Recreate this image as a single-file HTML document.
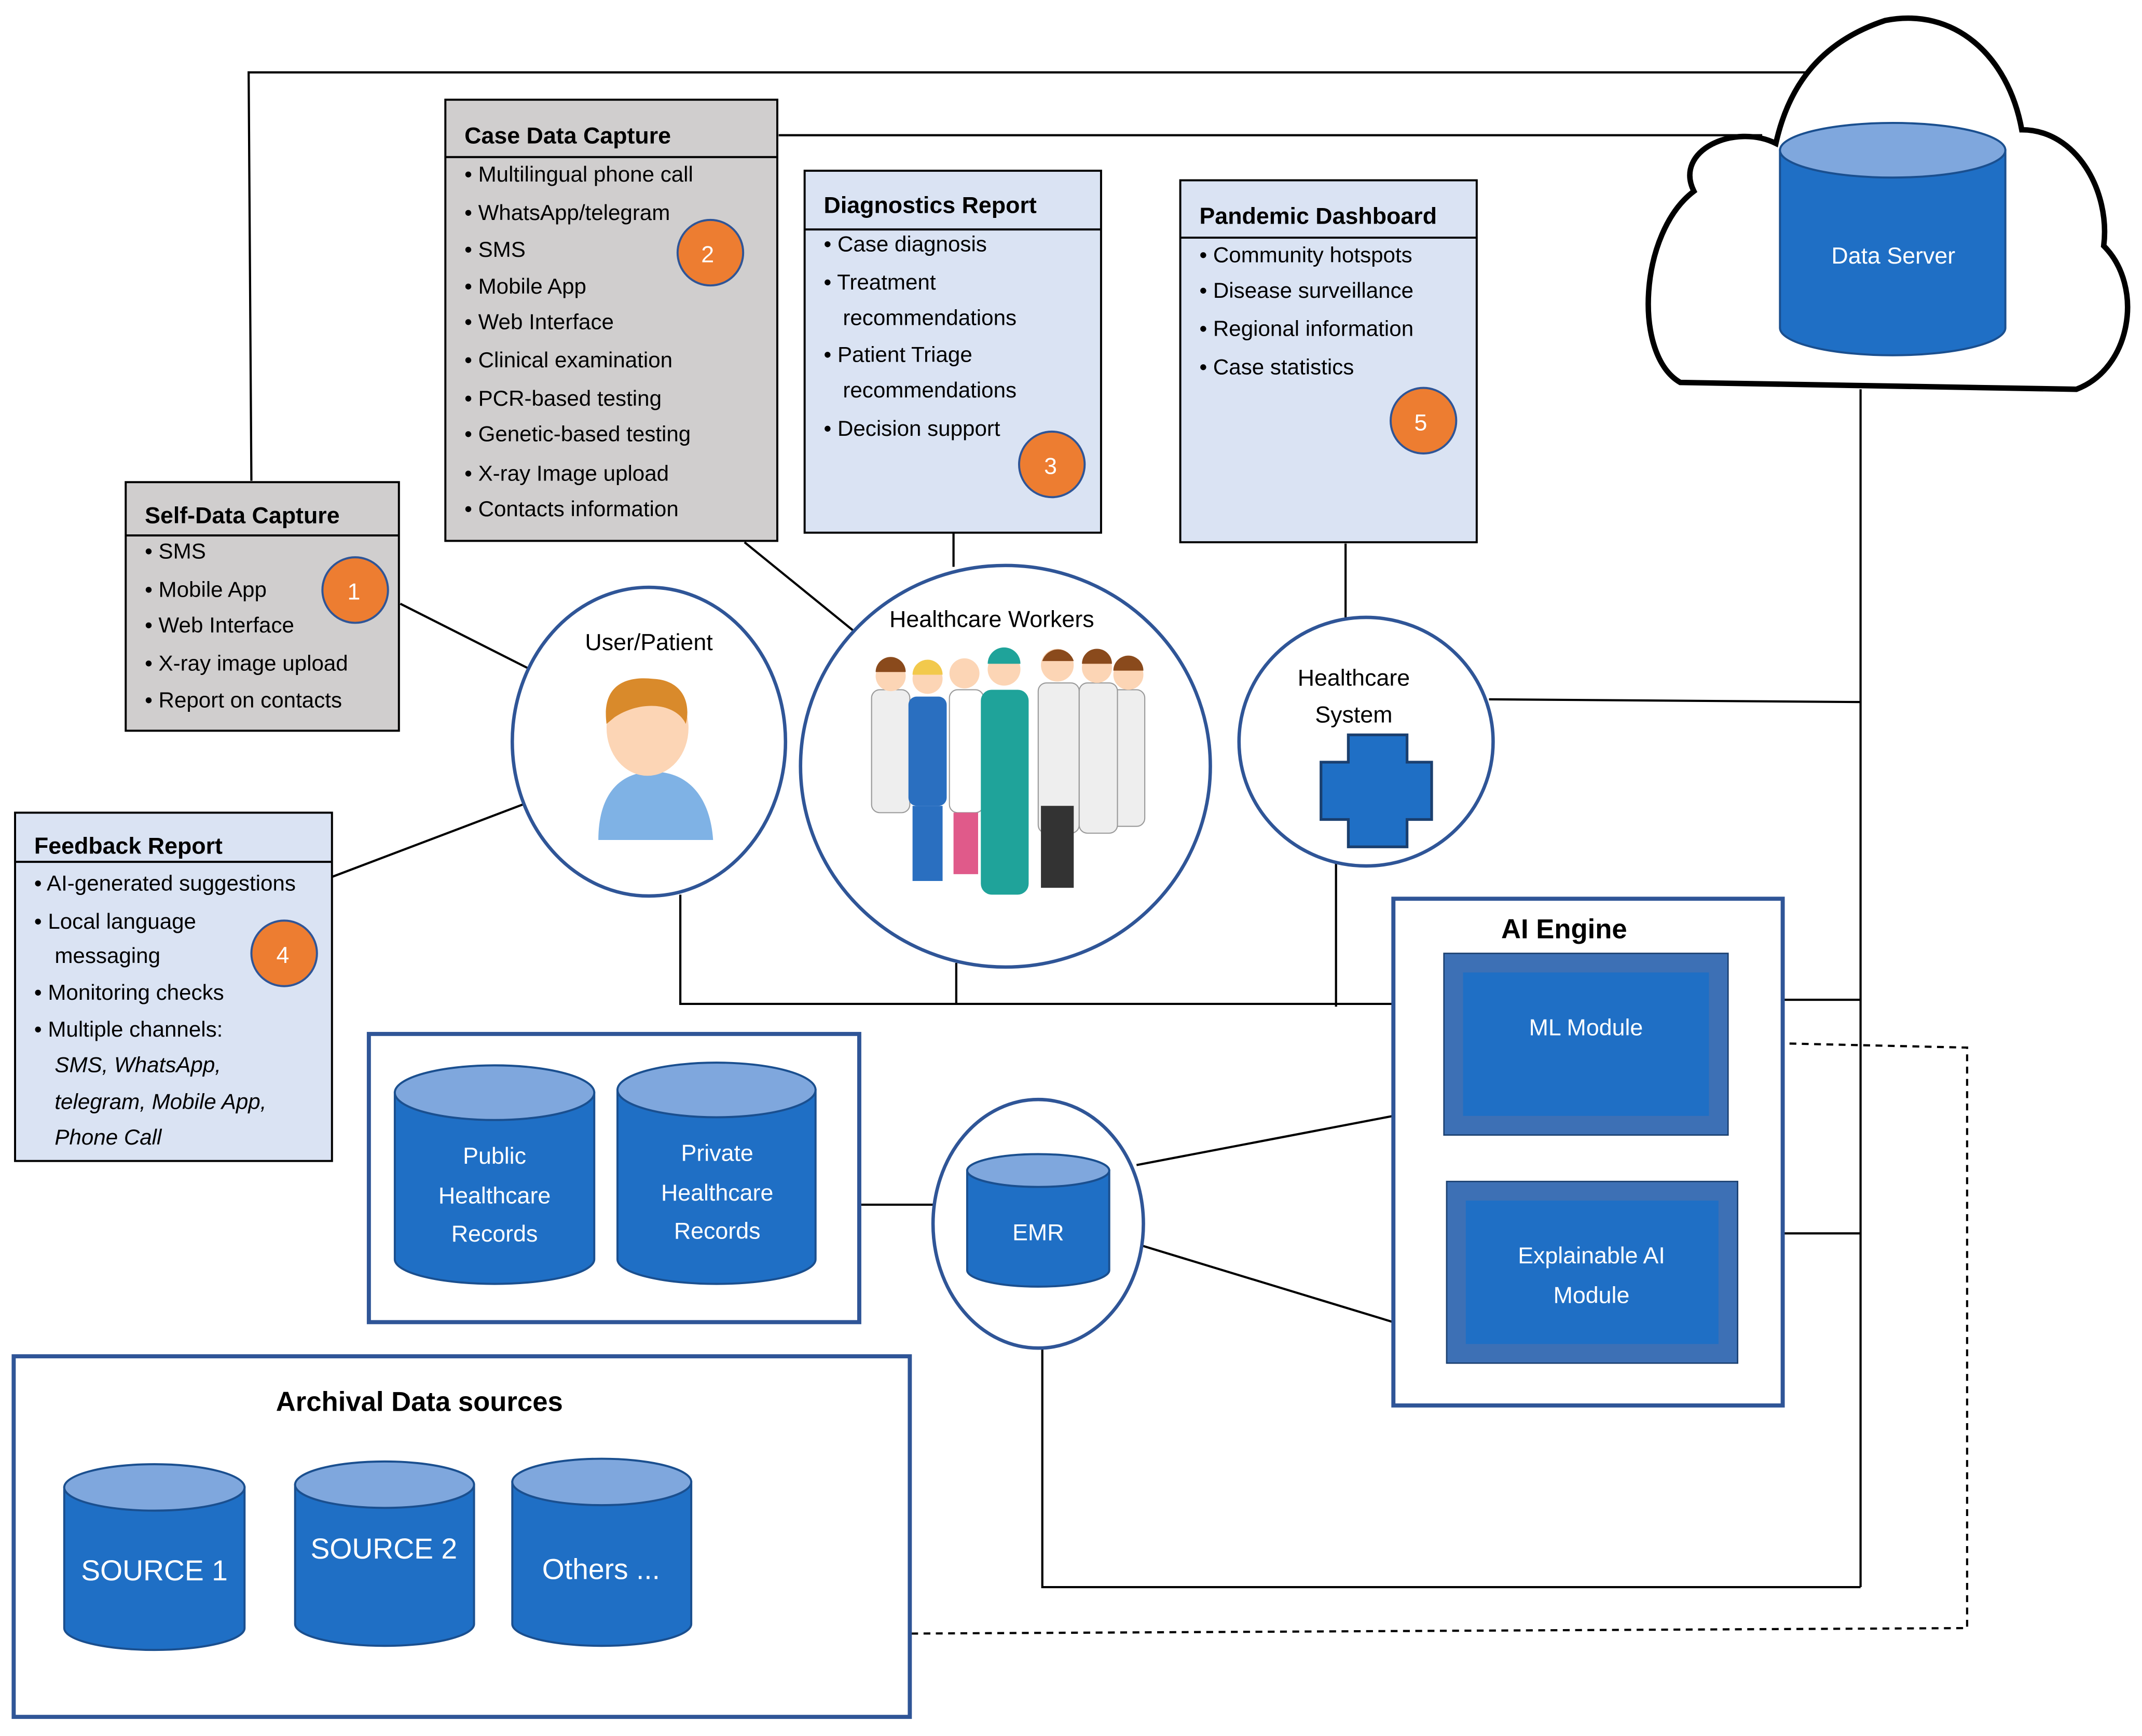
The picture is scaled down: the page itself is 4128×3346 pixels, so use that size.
<!DOCTYPE html>
<html><head><meta charset="utf-8"><style>
html,body{margin:0;padding:0;background:#fff;}
svg{display:block;}
text{font-family:"Liberation Sans Narrow","Liberation Sans",sans-serif;}
</style></head><body>
<svg width="4128" height="3346" viewBox="0 0 1568 1271" xmlns="http://www.w3.org/2000/svg">
<rect width="1568" height="1271" fill="#fff"/>
<g stroke="#000" stroke-width="1.6" fill="none">
<polyline points="184,352 182,53 1340,53"/>
<line x1="570" y1="99" x2="1290" y2="99"/>
<line x1="1362" y1="285" x2="1362" y2="1162"/>
<line x1="1090" y1="512" x2="1362" y2="514"/>
<line x1="1265" y1="732" x2="1362" y2="732"/>
<line x1="1272" y1="903" x2="1362" y2="903"/>
<polyline points="763,985 763,1162 1362,1162"/>
<polyline points="498,655 498,735 1020,735"/>
<line x1="700" y1="705" x2="700" y2="735"/>
<line x1="978" y1="632" x2="978" y2="737"/>
<line x1="698" y1="390" x2="698" y2="415"/>
<line x1="985" y1="398" x2="985" y2="452"/>
<line x1="545" y1="397" x2="625" y2="462"/>
<line x1="293" y1="442" x2="388" y2="490"/>
<line x1="243" y1="642" x2="388" y2="587"/>
<line x1="630" y1="882" x2="685" y2="882"/>
<line x1="832" y1="853" x2="1020" y2="817"/>
<line x1="836" y1="912" x2="1020" y2="968"/>
<line x1="1160" y1="825" x2="1160" y2="870" stroke-width="2.5"/>
<polyline points="1265,763 1440,767 1440,1192 667,1196" stroke-dasharray="5,4"/>
</g>
<path d="M1230,280 C1195,260 1200,170 1240,140 C1225,110 1270,90 1300,105 C1310,60 1335,30 1380,15 C1430,5 1470,40 1480,95 C1520,95 1545,140 1540,180 C1570,210 1560,270 1520,285 Z" fill="#fff" stroke="#000" stroke-width="4"/>
<path d="M1303,110 L1303,240 A82,20 0 0 0 1468,240 L1468,110 Z" fill="#1f6fc5" stroke="#1a4f8f" stroke-width="1.5"/>
<ellipse cx="1385.5" cy="110" rx="82.5" ry="20" fill="#7fa7dd" stroke="#1a4f8f" stroke-width="1.5"/>
<text x="1386" y="193" font-size="17" fill="#fff" text-anchor="middle">Data Server</text>

<rect x="92" y="353" width="200" height="182" fill="#d0cece" stroke="#000" stroke-width="1.5"/>
<line x1="92" y1="392" x2="292" y2="392" stroke="#000" stroke-width="1.5"/>
<text x="106" y="383" font-size="17" font-weight="bold">Self-Data Capture</text>
<g font-size="16">
<text x="106" y="409">• SMS</text><text x="106" y="437">• Mobile App</text><text x="106" y="463">• Web Interface</text><text x="106" y="491">• X-ray image upload</text><text x="106" y="518">• Report on contacts</text>
</g>
<rect x="326" y="73" width="243" height="323" fill="#d0cece" stroke="#000" stroke-width="1.5"/>
<line x1="326" y1="115" x2="569" y2="115" stroke="#000" stroke-width="1.5"/>
<text x="340" y="105" font-size="17" font-weight="bold">Case Data Capture</text>
<g font-size="16">
<text x="340" y="133">• Multilingual phone call</text><text x="340" y="161">• WhatsApp/telegram</text><text x="340" y="188">• SMS</text><text x="340" y="215">• Mobile App</text><text x="340" y="241">• Web Interface</text><text x="340" y="269">• Clinical examination</text><text x="340" y="297">• PCR-based testing</text><text x="340" y="323">• Genetic-based testing</text><text x="340" y="352">• X-ray Image upload</text><text x="340" y="378">• Contacts information</text>
</g>
<rect x="589" y="125" width="217" height="265" fill="#dae3f3" stroke="#000" stroke-width="1.5"/>
<line x1="589" y1="168" x2="806" y2="168" stroke="#000" stroke-width="1.5"/>
<text x="603" y="156" font-size="17" font-weight="bold">Diagnostics Report</text>
<g font-size="16">
<text x="603" y="184">• Case diagnosis</text><text x="603" y="212">• Treatment</text><text x="617" y="238">recommendations</text><text x="603" y="265">• Patient Triage</text><text x="617" y="291">recommendations</text><text x="603" y="319">• Decision support</text>
</g>
<rect x="864" y="132" width="217" height="265" fill="#dae3f3" stroke="#000" stroke-width="1.5"/>
<line x1="864" y1="174" x2="1081" y2="174" stroke="#000" stroke-width="1.5"/>
<text x="878" y="164" font-size="17" font-weight="bold">Pandemic Dashboard</text>
<g font-size="16">
<text x="878" y="192">• Community hotspots</text><text x="878" y="218">• Disease surveillance</text><text x="878" y="246">• Regional information</text><text x="878" y="274">• Case statistics</text>
</g>
<rect x="11" y="595" width="232" height="255" fill="#dae3f3" stroke="#000" stroke-width="1.5"/>
<line x1="11" y1="631" x2="243" y2="631" stroke="#000" stroke-width="1.5"/>
<text x="25" y="625" font-size="17" font-weight="bold">Feedback Report</text>
<g font-size="16">
<text x="25" y="652">• AI-generated suggestions</text><text x="25" y="680">• Local language</text><text x="40" y="705">messaging</text><text x="25" y="732">• Monitoring checks</text><text x="25" y="759">• Multiple channels:</text>
<text x="40" y="785" font-style="italic">SMS, WhatsApp,</text><text x="40" y="812" font-style="italic">telegram, Mobile App,</text><text x="40" y="838" font-style="italic">Phone Call</text>
</g>
<g fill="#ed7d31" stroke="#2f5597" stroke-width="1.5">
<circle cx="260" cy="432" r="24"/><circle cx="520" cy="185" r="24"/><circle cx="770" cy="340" r="24"/><circle cx="1042" cy="308" r="24"/><circle cx="208" cy="698" r="24"/>
</g>
<g fill="#fff" font-size="17" text-anchor="middle">
<text x="259" y="439">1</text><text x="518" y="192">2</text><text x="769" y="347">3</text><text x="1040" y="315">5</text><text x="207" y="705">4</text>
</g>
<g fill="#fff" stroke="#2f5597" stroke-width="2.5">
<ellipse cx="475" cy="543" rx="100" ry="113"/>
<ellipse cx="736" cy="561" rx="150" ry="147"/>
<ellipse cx="1000" cy="543" rx="93" ry="91"/>
<ellipse cx="760" cy="896" rx="77" ry="91"/>
</g>
<text x="475" y="476" font-size="17" text-anchor="middle">User/Patient</text>
<path d="M438,615 C438,580 455,565 478,565 C505,565 520,585 522,615 Z" fill="#7fb2e5"/>
<ellipse cx="474" cy="533" rx="30" ry="35" fill="#fcd5b5"/>
<path d="M444,530 C440,500 460,495 478,497 C500,498 506,515 502,530 C495,515 470,512 450,525 Z" fill="#d98a2b"/>
<text x="726" y="459" font-size="17" text-anchor="middle">Healthcare Workers</text>
<g>
<g fill="#eee" stroke="#999" stroke-width="0.8">
<rect x="638" y="505" width="28" height="90" rx="6"/><rect x="810" y="505" width="28" height="100" rx="6"/><rect x="760" y="500" width="30" height="110" rx="6"/><rect x="790" y="500" width="28" height="110" rx="6"/>
</g>
<rect x="665" y="510" width="28" height="80" rx="6" fill="#2a6fc0"/>
<rect x="668" y="590" width="22" height="55" fill="#2a6fc0"/>
<rect x="695" y="505" width="25" height="90" rx="6" fill="#fff" stroke="#999" stroke-width="0.8"/>
<rect x="698" y="595" width="18" height="45" fill="#e05a8a"/>
<rect x="718" y="505" width="35" height="150" rx="8" fill="#1fa39a"/>
<rect x="762" y="590" width="24" height="60" fill="#333"/>
<g fill="#fcd5b5"><circle cx="652" cy="495" r="11"/><circle cx="679" cy="497" r="11"/><circle cx="706" cy="493" r="11"/><circle cx="735" cy="490" r="12"/><circle cx="774" cy="487" r="12"/><circle cx="803" cy="489" r="11"/><circle cx="826" cy="494" r="11"/></g>
<g fill="#8a4a1c"><path d="M641,492 a11,11 0 0 1 22,0 z"/><path d="M763,484 a12,12 0 0 1 23,0 z"/><path d="M792,486 a11,11 0 0 1 22,0 z"/><path d="M815,491 a11,11 0 0 1 22,0 z"/></g>
<path d="M668,494 a11,11 0 0 1 22,0 z" fill="#f2c94c"/>
<path d="M723,486 a12,12 0 0 1 24,0 z" fill="#1fa39a"/>
</g>
<text x="991" y="502" font-size="17" text-anchor="middle">Healthcare</text>
<text x="991" y="529" font-size="17" text-anchor="middle">System</text>
<path d="M987,538 L1030,538 L1030,558 L1048,558 L1048,600 L1030,600 L1030,620 L987,620 L987,600 L967,600 L967,558 L987,558 Z" fill="#1f6fc5" stroke="#1a3f6f" stroke-width="2"/>
<rect x="1020" y="658" width="285" height="371" fill="#fff" stroke="#2f5597" stroke-width="3"/>
<text x="1145" y="687" font-size="20" font-weight="bold" text-anchor="middle">AI Engine</text>
<rect x="1057" y="698" width="208" height="133" fill="#3d70b5" stroke="#1a3f6f"/>
<rect x="1071" y="712" width="180" height="105" fill="#1f6fc5"/>
<text x="1161" y="758" font-size="17" fill="#fff" text-anchor="middle">ML Module</text>
<rect x="1059" y="865" width="213" height="133" fill="#3d70b5" stroke="#1a3f6f"/>
<rect x="1073" y="879" width="185" height="105" fill="#1f6fc5"/>
<text x="1165" y="925" font-size="17" fill="#fff" text-anchor="middle">Explainable AI</text>
<text x="1165" y="954" font-size="17" fill="#fff" text-anchor="middle">Module</text>
<rect x="270" y="757" width="359" height="211" fill="#fff" stroke="#2f5597" stroke-width="3"/>
<rect x="10" y="993" width="656" height="264" fill="#fff" stroke="#2f5597" stroke-width="3"/>
<text x="307" y="1033" font-size="20" font-weight="bold" text-anchor="middle">Archival Data sources</text>
<g stroke="#1a4f8f" stroke-width="1.5">
<path d="M289,800 L289,922 A73,18 0 0 0 435,922 L435,800 Z" fill="#1f6fc5"/><ellipse cx="362" cy="800" rx="73" ry="20" fill="#7fa7dd"/>
<path d="M452,798 L452,922 A72.5,18 0 0 0 597,922 L597,798 Z" fill="#1f6fc5"/><ellipse cx="524.5" cy="798" rx="72.5" ry="20" fill="#7fa7dd"/>
<path d="M708,857 L708,930 A52,12 0 0 0 812,930 L812,857 Z" fill="#1f6fc5"/><ellipse cx="760" cy="857" rx="52" ry="12" fill="#7fa7dd"/>
<path d="M47,1089 L47,1192 A66,16 0 0 0 179,1192 L179,1089 Z" fill="#1f6fc5"/><ellipse cx="113" cy="1089" rx="66" ry="17" fill="#7fa7dd"/>
<path d="M216,1087 L216,1189 A65.5,16 0 0 0 347,1189 L347,1087 Z" fill="#1f6fc5"/><ellipse cx="281.5" cy="1087" rx="65.5" ry="17" fill="#7fa7dd"/>
<path d="M375,1085 L375,1189 A65.5,16 0 0 0 506,1189 L506,1085 Z" fill="#1f6fc5"/><ellipse cx="440.5" cy="1085" rx="65.5" ry="17" fill="#7fa7dd"/>
</g>
<g fill="#fff" text-anchor="middle" font-size="17">
<text x="362" y="852">Public</text><text x="362" y="881">Healthcare</text><text x="362" y="909">Records</text>
<text x="525" y="850">Private</text><text x="525" y="879">Healthcare</text><text x="525" y="907">Records</text>
<text x="760" y="908">EMR</text>
<text x="113" y="1157" font-size="21">SOURCE 1</text>
<text x="281" y="1141" font-size="21">SOURCE 2</text>
<text x="440" y="1156" font-size="21">Others ...</text>
</g>
</svg>
</body></html>
